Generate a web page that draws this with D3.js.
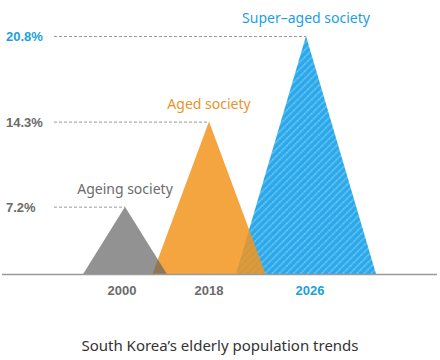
<!DOCTYPE html>
<html>
<head>
<meta charset="utf-8">
<script src="https://cdn.jsdelivr.net/npm/d3@7"></script>
<style>
  body { margin: 0; background: #fff; }
  svg { display: block; }
</style>
</head>
<body>
<svg width="440" height="360"></svg>
<script>
// data
var years = ["2000", "2018", "2026"];
var shares = [7.2, 14.3, 20.8];
var stages = ["Ageing society", "Aged society", "Super\u2013aged society"];
var tickLabels = ["7.2%", "14.3%", "20.8%"];
var title = "South Korea\u2019s elderly population trends";

var svg = d3.select("svg");
var baseY = 274;

var data = years.map(function(d, i) {
  return {year: d, value: shares[i], stage: stages[i], tick: tickLabels[i]};
});

// vertical scale is slightly non-linear in the original artwork
var y = d3.scalePow().exponent(1.19)
  .domain([0, 20.8])
  .range([baseY, 36]);

var x = d3.scaleOrdinal()
  .domain(years)
  .range([125, 209, 306]);

var halfWidth = d3.scaleLinear()
  .domain([0, 20.8])
  .range([27, 70]);

var textColor = ["#6b6b6b", "#e8942c", "#1b9fe3"];
var tickColor = ["#6b6b6b", "#6b6b6b", "#1b9fe3"];

// hatch pattern for the blue triangle
var defs = svg.append("defs");
var pat = defs.append("pattern")
  .attr("id", "hatch")
  .attr("patternUnits", "userSpaceOnUse")
  .attr("width", 5)
  .attr("height", 5)
  .attr("patternTransform", "rotate(45)");
pat.append("rect")
  .attr("width", 5).attr("height", 5)
  .attr("fill", "#2aa8ea");
pat.append("line")
  .attr("x1", 0.8).attr("y1", 0).attr("x2", 0.8).attr("y2", 5)
  .attr("stroke", "#6cc6f4")
  .attr("stroke-width", 1.6)
  .attr("stroke-dasharray", "1.4,0.6");

function tri(d) {
  var cx = x(d.year), hw = halfWidth(d.value);
  return "M" + (cx - hw) + "," + baseY + "L" + cx + "," + y(d.value) + "L" + (cx + hw) + "," + baseY + "Z";
}

// dashed guide lines
svg.append("g")
  .selectAll("line")
  .data(data)
  .enter().append("line")
    .attr("x1", 54)
    .attr("x2", function(d) { return x(d.year); })
    .attr("y1", function(d) { return y(d.value) + 0.5; })
    .attr("y2", function(d) { return y(d.value) + 0.5; })
    .attr("stroke", "#999")
    .attr("stroke-width", 1)
    .attr("stroke-dasharray", "3,2");

// triangles: blue first, then orange, gray on top
var order = [2, 1, 0];
var fills = ["rgba(100,100,100,0.7)", "rgba(242,149,29,0.85)", "url(#hatch)"];
svg.append("g")
  .selectAll("path")
  .data(order.map(function(i) { return data[i]; }))
  .enter().append("path")
    .attr("d", tri)
    .attr("fill", function(d) { return fills[years.indexOf(d.year)]; });

// baseline
svg.append("line")
  .attr("x1", 2).attr("x2", 437)
  .attr("y1", baseY + 0.5).attr("y2", baseY + 0.5)
  .attr("stroke", "#9a9a9a")
  .attr("stroke-width", 1.3);

// stage labels above the peaks
svg.append("g")
  .selectAll("text")
  .data(data)
  .enter().append("text")
    .attr("x", function(d) { return x(d.year); })
    .attr("y", function(d) { return y(d.value) - 13; })
    .attr("text-anchor", "middle")
    .attr("font-family", "'Noto Sans', sans-serif")
    .attr("font-size", 14)
    .attr("fill", function(d, i) { return textColor[i]; })
    .text(function(d) { return d.stage; });

// value labels on the left
svg.append("g")
  .selectAll("text")
  .data(data)
  .enter().append("text")
    .attr("x", 6)
    .attr("y", function(d) { return y(d.value) + 5; })
    .attr("font-family", "'Liberation Sans', Arial, sans-serif")
    .attr("font-weight", "bold")
    .attr("font-size", 13)
    .attr("fill", function(d, i) { return tickColor[i]; })
    .text(function(d) { return d.tick; });

// year labels
svg.append("g")
  .selectAll("text")
  .data(data)
  .enter().append("text")
    .attr("x", function(d, i) { return x(d.year) + [-3, 0, 4][i]; })
    .attr("y", 295)
    .attr("text-anchor", "middle")
    .attr("font-family", "'Liberation Sans', Arial, sans-serif")
    .attr("font-weight", "bold")
    .attr("font-size", 13)
    .attr("fill", function(d, i) { return tickColor[i]; })
    .text(function(d) { return d.year; });

svg.append("text")
  .attr("x", 220)
  .attr("y", 351)
  .attr("text-anchor", "middle")
  .attr("font-family", "'Noto Sans', sans-serif")
  .attr("font-size", 15)
  .attr("fill", "#333")
  .text(title);
</script>
</body>
</html>
